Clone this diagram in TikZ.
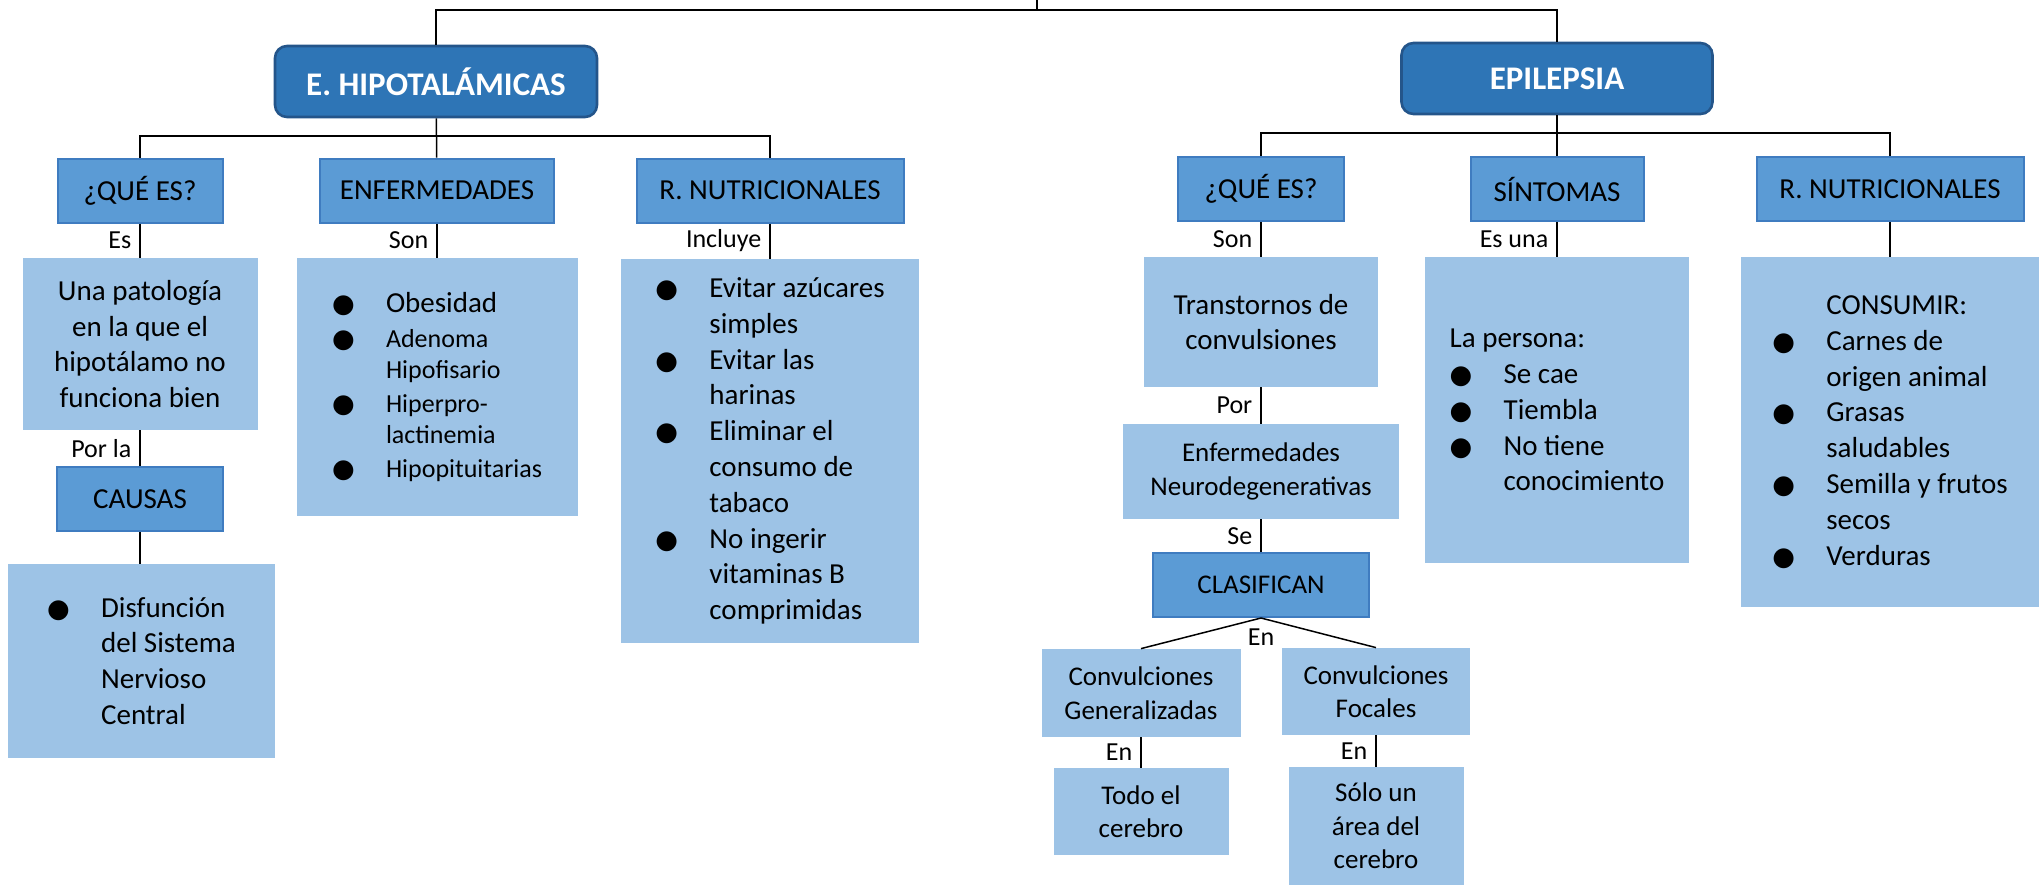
\documentclass[tikz,border=0pt]{standalone}
\usepackage{fontspec}
\setmainfont{Carlito}
\newfontfamily\dotfont{DejaVu Sans}
\usetikzlibrary{positioning}

\definecolor{titlefill}{HTML}{2E75B6}
\definecolor{titleedge}{HTML}{24558A}
\definecolor{headfill}{HTML}{5B9BD5}
\definecolor{headedge}{HTML}{3F7CC0}
\definecolor{boxfill}{HTML}{9DC3E6}

% viñeta y sangría de las listas
\newcommand{\bul}{\makebox[27pt][l]{\dotfont\fontsize{13}{13}\selectfont ●}}
\newcommand{\ind}{\hspace*{27pt}}

\begin{document}
\begin{tikzpicture}[x=0.5pt, y=-0.5pt,
  titulo/.style={draw=titleedge, fill=titlefill, line width=1.3pt, rounded corners=6pt,
    text=white, font=\bfseries\fontsize{16.5}{20}\selectfont, inner sep=0pt},
  cabeza/.style={draw=headedge, fill=headfill, line width=1pt, minimum height=32pt,
    font=\fontsize{14.5}{17.9}\selectfont, inner sep=0pt},
  caja/.style={fill=boxfill, font=\fontsize{14.5}{17.9}\selectfont, inner sep=0pt},
  cajita/.style={caja, font=\fontsize{13.5}{16.75}\selectfont, align=center},
  etiq/.style={font=\fontsize{13}{15.6}\selectfont, inner sep=4pt},
  linea/.style={line width=0.75pt}]
  \useasboundingbox (0,0) rectangle (2044,885);

  % Títulos
  \node[titulo, minimum width=161pt, minimum height=35.5pt] (ehipo) at (436,81.5) {E. HIPOTALÁMICAS};
  \node[titulo, minimum width=155.5pt, minimum height=35.5pt] (epi) at (1557,78.5) {EPILEPSIA};

  % E. hipotalámicas
  \node[cabeza, minimum width=82.5pt] (que1) at (140,190.5) {¿QUÉ ES?};
  \node[cabeza, minimum width=117pt] (enf) at (437,190.5) {ENFERMEDADES};
  \node[cabeza, minimum width=133.5pt] (nut1) at (770,190.5) {R. NUTRICIONALES};

  \node[caja, align=center, minimum width=117.5pt, minimum height=86pt] (patol) at (140,344)
    {Una patología\\en la que el\\hipotálamo no\\funciona bien};
  \node[caja, align=left, minimum width=140.5pt, minimum height=129pt,
    font=\fontsize{13}{15.5}\selectfont] (enflist) at (437,387)
    {\bul{\fontsize{14.5}{17}\selectfont Obesidad}\\[2pt]
     \bul Adenoma\\ \ind Hipofisario\\[1.5pt]
     \bul Hiperpro-\\ \ind lactinemia\\[1.5pt]
     \bul Hipopituitarias};
  \node[caja, align=left, minimum width=149pt, minimum height=192pt] (nutlist) at (770,451)
    {\bul Evitar azúcares\\ \ind simples\\
     \bul Evitar las\\ \ind harinas\\
     \bul Eliminar el\\ \ind consumo de\\ \ind tabaco\\
     \bul No ingerir\\ \ind vitaminas B\\ \ind comprimidas};
  \node[cabeza, minimum width=83pt] (causas) at (140,499) {CAUSAS};
  \node[caja, align=left, minimum width=133.5pt, minimum height=97pt] (disf) at (141.5,661)
    {\bul Disfunción\\ \ind del Sistema\hspace*{8.5pt}\\ \ind Nervioso\\ \ind Central};

  % Epilepsia
  \node[cabeza, minimum width=83pt] (que2) at (1261,189) {¿QUÉ ES?};
  \node[cabeza, minimum width=86.5pt] (sint) at (1557,189) {SÍNTOMAS};
  \node[cabeza, minimum width=133.5pt] (nut2) at (1890,189) {R. NUTRICIONALES};

  \node[caja, align=center, minimum width=117pt, minimum height=65pt] (trans) at (1261,322)
    {Transtornos de\\convulsiones};
  \node[cajita, minimum width=138pt, minimum height=47.5pt] (neuro) at (1261,471.5)
    {Enfermedades\\Neurodegenerativas};
  \node[cabeza, minimum width=108pt, font=\fontsize{13.5}{16.75}\selectfont] (clas) at (1261,585) {CLASIFICAN};
  \node[cajita, minimum width=99.5pt, minimum height=44pt] (gen) at (1141,693)
    {Convulciones\\Generalizadas};
  \node[cajita, minimum width=94pt, minimum height=43.5pt] (foc) at (1376,691.5)
    {Convulciones\\Focales};
  \node[cajita, minimum width=87.5pt, minimum height=43.5pt] (todo) at (1141,811.5)
    {Todo el\\cerebro};
  \node[cajita, minimum width=87.5pt, minimum height=59pt] (solo) at (1376,826)
    {Sólo un\\área del\\cerebro};

  \node[caja, align=left, minimum width=132pt, minimum height=153pt] (persona) at (1557,410)
    {La persona:\\ \bul Se cae\\ \bul Tiembla\\ \bul No tiene\\ \ind conocimiento};
  \node[caja, align=left, minimum width=149pt, minimum height=175pt] (consumir) at (1890,432)
    {\ind CONSUMIR:\\ \bul Carnes de\\ \ind origen animal\\ \bul Grasas\\ \ind saludables\\
     \bul Semilla y frutos\\ \ind secos\\ \bul Verduras};

  % Conectores
  \coordinate (raiz) at (1037,0);
  \coordinate (cruce) at (1037,10);
  \coordinate (barra1) at (436,136);
  \coordinate (barra2) at (1557,133);
  \draw[linea] (raiz) -- (cruce);
  \draw[linea] (ehipo) |- (cruce) -| (epi);

  \draw[linea] (ehipo) -- (enf);
  \draw[linea] (que1) |- (barra1) -| (nut1);
  \draw[linea] (epi) -- (sint);
  \draw[linea] (que2) |- (barra2) -| (nut2);

  \draw[linea] (que1) -- node[etiq, left] {Es} (patol);
  \draw[linea] (enf) -- node[etiq, left] {Son} (enflist);
  \draw[linea] (nut1) -- node[etiq, left] {Incluye} (nutlist);
  \draw[linea] (patol) -- node[etiq, left] {Por la} (causas);
  \draw[linea] (causas) -- (causas |- disf.north);

  \draw[linea] (que2) -- node[etiq, left] {Son} (trans);
  \draw[linea] (sint) -- node[etiq, left] {Es una} (persona);
  \draw[linea] (nut2) -- (consumir);
  \draw[linea] (trans) -- node[etiq, left] {Por} (neuro);
  \draw[linea] (neuro) -- node[etiq, left] {Se} (clas);
  \draw[linea] (clas.south) -- (gen.north);
  \draw[linea] (clas.south) -- (foc.north);
  \node[etiq, below=1pt of clas.south] (en0) {En};
  \draw[linea] (gen) -- node[etiq, left] {En} (todo);
  \draw[linea] (foc) -- node[etiq, left] {En} (solo);
\end{tikzpicture}
\end{document}
